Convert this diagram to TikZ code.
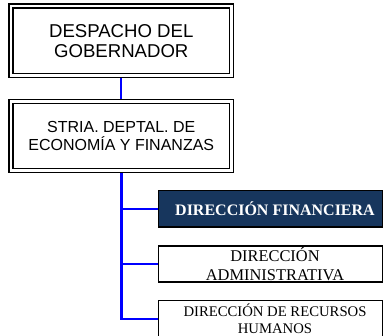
\documentclass[tikz,border=0pt]{standalone}
\usepackage{fontspec}
\setmainfont{Liberation Serif}
\newfontfamily\arialf{Liberation Sans}
\definecolor{navy}{RGB}{23,54,93}
\definecolor{linkblue}{RGB}{0,0,255}
\begin{document}
\begin{tikzpicture}[x=1pt,y=-1pt,
  dbox/.style={draw=black, line width=1.3pt, double=white, double distance=2.7pt,
    minimum width=220.5pt, inner sep=0pt, outer sep=2.6pt, align=center},
  sbox/.style={draw=black, line width=1.3pt, minimum width=224.2pt, inner sep=0pt, outer sep=0.65pt},
  lbl/.style={inner sep=0pt, align=center},
  thinlink/.style={draw=linkblue, line width=1.5pt},
  thicklink/.style={draw=linkblue, line width=2.2pt}]
\useasboundingbox (0,0) rectangle (383,335);
% top boxes
\node[dbox, minimum height=69.5pt, font=\arialf\fontsize{18.6}{20}\selectfont] (b1) at (121.25,40.75)
  {DESPACHO DEL\\GOBERNADOR};
\node[dbox, minimum height=69pt, font=\arialf\fontsize{16}{18.3}\selectfont] (b2) at (121.25,136.25)
  {STRIA. DEPTAL. DE\\ECONOMÍA Y FINANZAS};
% lower boxes
\node[sbox, fill=navy, minimum height=36.3pt] (d1) at (270.4,208.85) {};
\node[sbox, minimum height=36pt] (d2) at (270.4,264) {};
\node[sbox, minimum height=37.3pt] (d3) at (270.4,319.35) {};
\node[lbl, text=white, font=\fontsize{16}{18}\selectfont\bfseries] (t1) at (275,209)
  {DIRECCIÓN FINANCIERA};
\node[lbl, font=\fontsize{16.4}{19}\selectfont] (t2) at (275,264)
  {DIRECCIÓN\\ADMINISTRATIVA};
\node[lbl, font=\fontsize{14.7}{16.7}\selectfont] (t3) at (275,318.6)
  {DIRECCIÓN DE RECURSOS\\HUMANOS};
% connectors
\coordinate (tbot) at (121.5,319);
\coordinate (ttop) at (121,0);
\draw[thinlink, line width=1.4pt] (b1.south -| ttop) -- (b2.north -| ttop);
\draw[thicklink] (b2.south -| tbot) -- (tbot);
\draw[thinlink] (tbot |- d1.west) -- (d1.west);
\draw[thinlink] (tbot |- d2.west) -- (d2.west);
\draw[thinlink] ([xshift=-1.1pt]tbot) -- (d3.west |- tbot);
\end{tikzpicture}
\end{document}
